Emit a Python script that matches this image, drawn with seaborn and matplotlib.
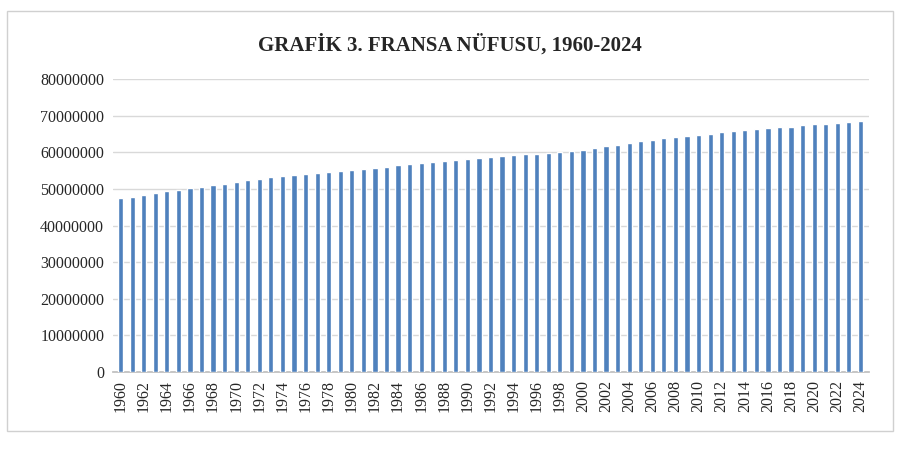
import numpy as np
import pandas as pd
import seaborn as sns
import matplotlib.pyplot as plt
from matplotlib.patches import Rectangle

years = list(range(1960, 2025))
population_m = [47.4, 47.9, 48.4, 48.9, 49.4, 49.8, 50.2, 50.6, 51.0, 51.4,
                51.8, 52.3, 52.8, 53.2, 53.5, 53.8, 54.1, 54.4, 54.7, 54.9,
                55.2, 55.5, 55.8, 56.1, 56.4, 56.7, 57.0, 57.3, 57.6, 57.9,
                58.2, 58.5, 58.8, 59.0, 59.2, 59.4, 59.6, 59.8, 60.0, 60.3,
                60.7, 61.1, 61.6, 62.0, 62.5, 63.0, 63.4, 63.8, 64.2, 64.5,
                64.8, 65.1, 65.4, 65.8, 66.1, 66.4, 66.6, 66.8, 67.0, 67.3,
                67.6, 67.8, 68.0, 68.2, 68.5]
y_ticks = list(range(0, 80000001, 10000000))

df = pd.DataFrame({"year": [str(y) for y in years],
                   "pop": [p * 1e6 for p in population_m]})

sns.set_theme(style="white")
plt.rcParams['font.family'] = ['Liberation Serif', 'DejaVu Serif']

fig = plt.figure(figsize=(9, 4.51), dpi=100)
ax = fig.add_axes([0.125, 0.175, 0.84, 0.65])
sns.barplot(data=df, x="year", y="pop", color="#4F81BD", saturation=1,
            width=0.45, ax=ax, zorder=3)

ax.set_ylim(0, 80000000)
ax.set_yticks(y_ticks)
ax.set_yticklabels([str(t) for t in y_ticks], fontsize=11.5)
ax.yaxis.grid(True, color="#D9D9D9", linewidth=1, zorder=0)
ax.set_xticks(range(0, len(years), 2))
ax.set_xticklabels([str(y) for y in years[::2]], rotation=90, fontsize=11.5)
ax.set_xlim(-0.7, len(years) - 0.3)
ax.set_xlabel("")
ax.set_ylabel("")
for s in ["top", "right", "left"]:
    ax.spines[s].set_visible(False)
ax.spines["bottom"].set_color("#BFBFBF")
ax.tick_params(axis="both", length=0, pad=6)

fig.text(0.5, 0.9, "GRAFİK 3. FRANSA NÜFUSU, 1960-2024", ha="center",
         va="center", fontsize=15, fontweight="bold")
fig.patches.append(Rectangle((0.008, 0.045), 0.984, 0.93, transform=fig.transFigure,
                             fill=False, edgecolor="#D0D0D0", linewidth=1))

fig.savefig("out.png", dpi=100)
